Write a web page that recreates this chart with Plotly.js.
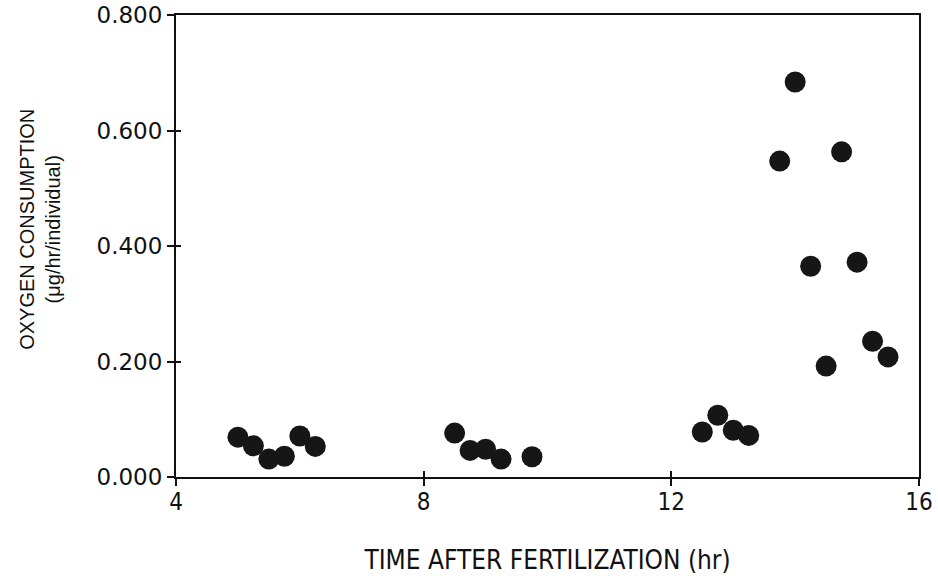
<!DOCTYPE html>
<html>
<head>
<meta charset="utf-8">
<script src="https://cdn.plot.ly/plotly-3.0.1.min.js"></script>
<style>html,body{margin:0;padding:0;background:#fff;}#chart{width:938px;height:579px;}</style>
</head>
<body>
<div id="chart"></div>
<script>
// Time after fertilization (hr)
const timeHr = [5.0, 5.25, 5.5, 5.75, 6.0, 6.25,
                8.5, 8.75, 9.0, 9.25, 9.75,
                12.5, 12.75, 13.0, 13.25,
                13.75, 14.0, 14.25, 14.5, 14.75, 15.0, 15.25, 15.5];
// Oxygen consumption (ug/hr/individual)
const oxygen = [0.069, 0.054, 0.031, 0.036, 0.071, 0.053,
                0.076, 0.046, 0.048, 0.031, 0.035,
                0.078, 0.107, 0.081, 0.072,
                0.547, 0.684, 0.365, 0.192, 0.563, 0.372, 0.235, 0.208];
const xTicks = [4, 8, 12, 16];
const yTicks = [0, 0.2, 0.4, 0.6, 0.8];
const yTickLabels = ["0.000", "0.200", "0.400", "0.600", "0.800"];
const xTitle = 'TIME AFTER FERTILIZATION (hr)';
const yTitle = 'OXYGEN CONSUMPTION<br>(μg/hr/individual)';

const trace = {
  x: timeHr, y: oxygen, type: 'scatter', mode: 'markers',
  marker: {size: 21, color: '#161616', line: {width: 0}},
  hoverinfo: 'x+y'
};
// empty helper trace so the inner tick-mark axes are drawn
const helper = {x: [], y: [], type: 'scatter', mode: 'markers', xaxis: 'x2', yaxis: 'y2', hoverinfo: 'skip'};

const condensed = '"DejaVu Sans Condensed", "Liberation Sans Narrow", sans-serif';
const plain = '"DejaVu Sans", sans-serif';
const helv = '"Liberation Sans", Arial, sans-serif';
const ink = '#111';
const layout = {
  width: 938, height: 579,
  margin: {l: 176, r: 19, t: 15, b: 102},
  paper_bgcolor: '#fff', plot_bgcolor: '#fff',
  showlegend: false,
  xaxis: {
    range: [4, 16], tickvals: xTicks, ticktext: xTicks.map(String),
    showgrid: false, zeroline: false, showline: true, mirror: true,
    linecolor: ink, linewidth: 2, ticks: 'outside', ticklen: 7, tickwidth: 2, tickcolor: ink,
    ticklabelstandoff: -5,
    tickfont: {family: condensed, size: 24, color: ink},
    title: {text: xTitle, font: {family: condensed, size: 26, color: ink}, standoff: 36}
  },
  yaxis: {
    range: [0, 0.8], tickvals: yTicks, ticktext: yTickLabels,
    showgrid: false, zeroline: false, showline: true, mirror: true,
    linecolor: ink, linewidth: 2, ticks: 'outside', ticklen: 7, tickwidth: 2, tickcolor: ink,
    tickfont: {family: plain, size: 23, color: ink}
  },
  xaxis2: {
    overlaying: 'x', anchor: 'y2', side: 'bottom', range: [4, 16], tickvals: xTicks,
    showticklabels: false, showgrid: false, zeroline: false, showline: false,
    ticks: 'inside', ticklen: 6, tickwidth: 2, tickcolor: ink
  },
  yaxis2: {
    overlaying: 'y', anchor: 'x2', side: 'left', range: [0, 0.8], tickvals: yTicks,
    showticklabels: false, showgrid: false, zeroline: false, showline: false,
    ticks: 'inside', ticklen: 5, tickwidth: 2, tickcolor: ink
  },
  annotations: [{
    text: yTitle, xref: 'paper', yref: 'paper', x: -0.183, y: 0.535,
    xanchor: 'center', yanchor: 'middle', textangle: -90, showarrow: false,
    font: {family: helv, size: 20, color: ink}
  }]
};
Plotly.newPlot('chart', [trace, helper], layout, {displayModeBar: false, staticPlot: true});
</script>
</body>
</html>
